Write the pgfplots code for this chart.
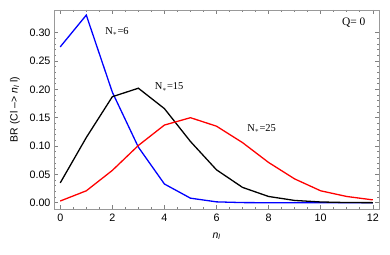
\documentclass[border=0pt]{standalone}
\usepackage{fontspec}
\setmainfont{Liberation Sans}
\newfontfamily\serif{Liberation Serif}
\usepackage{pgfplots}
\pgfplotsset{compat=1.18}
\begin{document}
\begin{tikzpicture}
\begin{axis}[
  name=ax,
  scale only axis,
  width=325bp, height=199bp,
  xmin=-0.24, xmax=12.24,
  ymin=-0.0111, ymax=0.340,
  xtick={0,2,...,12},
  minor x tick num=3,
  ytick={0,0.05,...,0.31},
  minor y tick num=4,
  yticklabel style={/pgf/number format/.cd,fixed,fixed zerofill,precision=2},
  /pgf/number format/assume math mode=true,
  tick label style={font=\fontsize{10.8}{12}\selectfont},
  xticklabel style={yshift=-1.5bp},
  tick style={gray, line width=0.5pt},
  major tick length=4bp, minor tick length=2bp,
  axis line style={gray!80, line width=0.6pt},
  xlabel={\fontsize{10.5}{12}\selectfont\itshape n\textsubscript{l}},
  ylabel={\fontsize{10.5}{12}\selectfont BR (Cl --> \textit{n\textsubscript{l}} l)},
  xlabel style={yshift=-4bp},
  ylabel style={yshift=3bp},
  clip=true,
]
\addplot[blue, line width=1.3pt] coordinates {
(0,0.275) (1,0.331) (2,0.195) (3,0.098) (4,0.033) (5,0.008) (6,0.0015) (7,0.0002) (8,0) (9,0) (10,0) (11,0) (12,0)};
\addplot[black, line width=1.3pt] coordinates {
(0,0.035) (1,0.115) (2,0.187) (3,0.202) (4,0.166) (5,0.108) (6,0.058) (7,0.027) (8,0.011) (9,0.004) (10,0.0013) (11,0.0003) (12,0.0001)};
\addplot[red, line width=1.3pt] coordinates {
(0,0.003) (1,0.021) (2,0.057) (3,0.101) (4,0.137) (5,0.150) (6,0.135) (7,0.106) (8,0.071) (9,0.042) (10,0.021) (11,0.011) (12,0.005)};
\node[anchor=west, font=\serif\fontsize{10.5}{12}\selectfont] at (axis cs:1.6,0.302) {N$_*$=6};
\node[anchor=west, font=\serif\fontsize{10.5}{12}\selectfont] at (axis cs:3.5,0.204) {N$_*$=15};
\node[anchor=west, font=\serif\fontsize{10.5}{12}\selectfont] at (axis cs:7.05,0.131) {N$_*$=25};
\node[anchor=east, font=\serif\fontsize{11.5}{13}\selectfont] at (axis cs:11.85,0.318) {Q= 0};
\end{axis}
\pgfresetboundingbox
\path[use as bounding box] ([shift={(-54bp,-46bp)}]ax.south west) rectangle ([shift={(11bp,10bp)}]ax.north east);
\end{tikzpicture}
\end{document}
